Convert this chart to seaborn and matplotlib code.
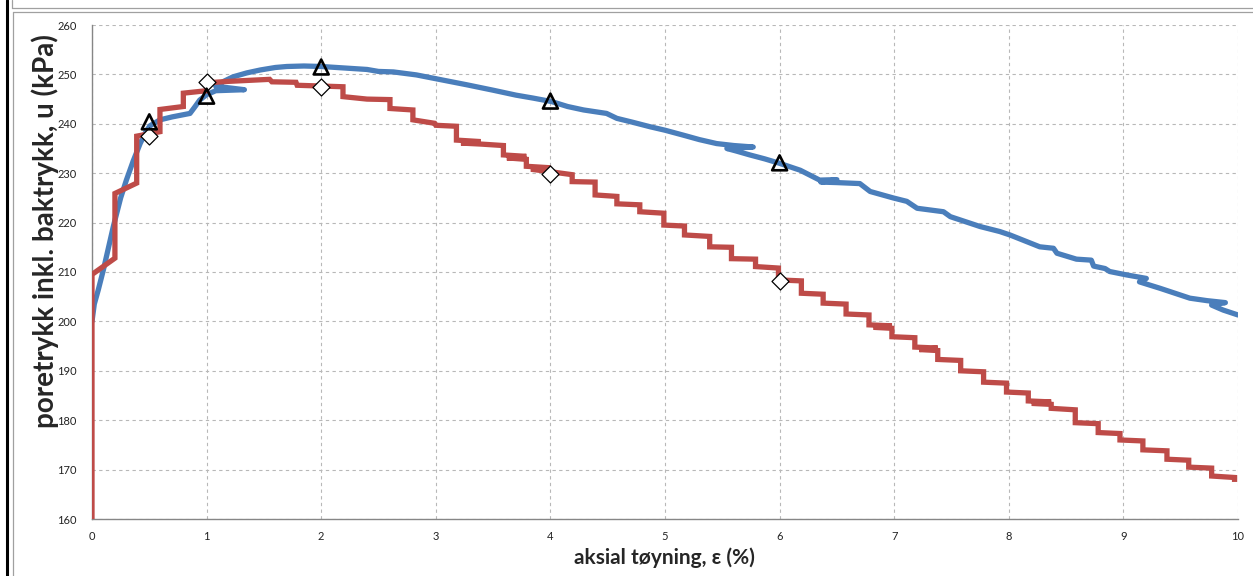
import matplotlib
matplotlib.use("Agg")
import matplotlib.pyplot as plt
import seaborn as sns
import pandas as pd
from matplotlib.lines import Line2D

# ---------------- data ----------------
blue_strain = [0.0, 0.02, 0.055, 0.10, 0.186, 0.25, 0.30, 0.36, 0.42, 0.47, 0.506, 0.593, 0.70,
               0.855, 0.90, 0.94, 1.0, 1.08, 1.33, 1.08, 1.15, 1.23, 1.35, 1.47, 1.6, 1.7, 1.85,
               2.0, 2.2, 2.4, 2.5, 2.63, 2.83, 3.05, 3.27, 3.5, 3.7, 3.85, 4.01, 4.15, 4.29, 4.49,
               4.58, 4.72, 4.87, 5.0, 5.16, 5.3, 5.45, 5.6, 5.77, 5.54, 5.62, 5.74, 5.87, 6.0,
               6.18, 6.35, 6.5, 6.36, 6.5, 6.70, 6.79, 6.99, 7.11, 7.2, 7.43, 7.49, 7.75, 7.92,
               8.01, 8.27, 8.39, 8.42, 8.59, 8.72, 8.74, 8.84, 8.88, 9.03, 9.2, 9.14, 9.32, 9.58,
               9.73, 9.89, 9.77, 9.87, 10.0]
blue_pressure = [200.0, 203.5, 206.4, 210.5, 219.2, 225.0, 228.6, 232.5, 236.0, 238.4, 239.6, 240.8,
                 241.4, 242.1, 243.5, 244.8, 245.9, 246.7, 246.9, 247.6, 248.6, 249.5, 250.3, 250.9,
                 251.4, 251.6, 251.7, 251.6, 251.3, 251.0, 250.6, 250.5, 249.9, 248.9, 247.9, 246.8,
                 245.8, 245.2, 244.5, 243.5, 242.8, 242.1, 241.1, 240.3, 239.4, 238.7, 237.7, 236.8,
                 236.0, 235.6, 235.3, 235.0, 234.5, 233.7, 232.9, 232.0, 230.6, 228.6, 228.7, 228.2,
                 228.1, 227.9, 226.3, 225.0, 224.3, 222.9, 222.2, 221.2, 219.2, 218.2, 217.5, 215.1,
                 214.8, 213.8, 212.6, 212.4, 211.2, 210.7, 210.1, 209.4, 208.7, 208.0, 206.7, 204.7,
                 204.2, 203.8, 203.3, 202.3, 201.3]

red_strain = [0.0, 0.0, 0.2, 0.2, 0.39, 0.39, 0.593, 0.593, 0.797, 0.797, 1.0, 1.0, 1.2, 1.55,
              1.57, 1.78, 1.79, 2.19, 2.19, 2.40, 2.6, 2.6, 2.80, 2.80, 2.99, 3.0, 3.18, 3.18,
              3.39, 3.22, 3.39, 3.39, 3.59, 3.59, 3.79, 3.62, 3.79, 3.79, 4.0, 3.83, 4.0, 4.19,
              4.19, 4.39, 4.39, 4.58, 4.58, 4.78, 4.78, 4.99, 4.99, 5.17, 5.17, 5.39, 5.39, 5.58,
              5.58, 5.79, 5.79, 5.99, 5.99, 6.19, 6.19, 6.38, 6.38, 6.58, 6.58, 6.78, 6.78, 6.98,
              6.82, 6.98, 6.98, 7.18, 7.18, 7.38, 7.22, 7.38, 7.38, 7.58, 7.58, 7.78, 7.78, 7.98,
              7.98, 8.17, 8.17, 8.37, 8.20, 8.37, 8.37, 8.58, 8.58, 8.78, 8.78, 8.97, 8.97, 9.17,
              9.17, 9.38, 9.38, 9.57, 9.57, 9.77, 9.77, 9.97, 9.97]
red_pressure = [160.0, 209.5, 212.8, 225.9, 228.0, 237.5, 238.4, 242.9, 243.5, 246.2, 246.7, 248.3,
                248.6, 249.0, 248.5, 248.4, 247.8, 247.5, 245.5, 245.0, 244.9, 243.1, 242.8, 240.8,
                240.1, 239.7, 239.5, 236.7, 236.4, 236.1, 235.9, 235.9, 235.6, 233.7, 233.4, 233.1,
                232.8, 231.4, 231.1, 230.8, 230.3, 229.7, 228.3, 228.2, 225.6, 225.3, 223.8, 223.6,
                222.2, 221.9, 219.5, 219.3, 217.5, 217.2, 215.1, 215.0, 212.7, 212.6, 211.1, 210.8,
                208.4, 208.2, 205.7, 205.5, 203.7, 203.5, 201.5, 201.3, 199.3, 199.1, 198.8, 198.6,
                196.9, 196.7, 194.8, 194.6, 194.3, 194.1, 192.3, 192.1, 190.0, 189.8, 187.7, 187.5,
                185.7, 185.5, 183.9, 183.7, 183.4, 183.2, 182.4, 182.1, 179.5, 179.3, 177.5, 177.3,
                176.0, 175.8, 174.0, 173.8, 172.1, 171.9, 170.5, 170.3, 168.7, 168.4, 167.5]

tri_strain = [0.5, 1.0, 2.0, 4.0, 6.0]
tri_pressure = [240.4, 245.6, 251.5, 244.6, 232.1]
dia_strain = [0.5, 1.0, 2.0, 4.0, 6.0]
dia_pressure = [237.5, 248.5, 247.4, 229.8, 208.2]

x_ticks = [0, 1, 2, 3, 4, 5, 6, 7, 8, 9, 10]
y_ticks = [160, 170, 180, 190, 200, 210, 220, 230, 240, 250, 260]
x_label = "aksial tøyning, ε (%)"
y_label = "poretrykk inkl. baktrykk, u (kPa)"

# ---------------- style ----------------
sns.set_style("white")
plt.rcParams['font.family'] = ['Lato', 'DejaVu Sans']

BLUE = "#4A7EBB"
RED = "#BE4B48"

fig = plt.figure(figsize=(12.53, 5.76), dpi=100)
ax = fig.add_axes([92/1253, 1 - 519/576, (1238-92)/1253, (519-25)/576])

blue_df = pd.DataFrame({"strain": blue_strain, "pressure": blue_pressure})
red_df = pd.DataFrame({"strain": red_strain, "pressure": red_pressure})

sns.lineplot(data=blue_df, x="strain", y="pressure", sort=False, estimator=None,
             color=BLUE, linewidth=3.8, ax=ax, solid_joinstyle="round", solid_capstyle="round", zorder=3)
sns.lineplot(data=red_df, x="strain", y="pressure", sort=False, estimator=None,
             color=RED, linewidth=3.8, ax=ax, solid_joinstyle="miter", solid_capstyle="butt", zorder=4)

sns.scatterplot(x=tri_strain, y=tri_pressure, marker="^", s=115, facecolor="none",
                edgecolor="black", linewidth=1.9, ax=ax, zorder=6)
sns.scatterplot(x=dia_strain, y=dia_pressure, marker="D", s=75, facecolor="white",
                edgecolor="black", linewidth=0.9, ax=ax, zorder=5)

ax.set_xlim(0, 10)
ax.set_ylim(160, 260)
ax.set_xticks(x_ticks)
ax.set_yticks(y_ticks)
ax.set_xticklabels([str(v) for v in x_ticks], fontsize=8, color="#222222")
ax.set_yticklabels([str(v) for v in y_ticks], fontsize=8, color="#222222")
ax.tick_params(axis="both", length=0, pad=9)
ax.tick_params(axis="y", pad=11)

ax.grid(True, which="major", color="#B8B8B8", linestyle=(0, (3, 3)), linewidth=0.8)
ax.set_axisbelow(True)
for side in ["top", "right"]:
    ax.spines[side].set_visible(False)
for side in ["left", "bottom"]:
    ax.spines[side].set_color("#868686")
    ax.spines[side].set_linewidth(1.0)

ax.set_xlabel(x_label, fontsize=15, fontweight="bold")
ax.set_ylabel(y_label, fontsize=20, fontweight="bold")
ax.xaxis.set_label_coords(0.4996, -0.079)
ax.yaxis.set_label_coords(-0.041, 0.583)
ax.xaxis.label.set_verticalalignment("center")
ax.yaxis.label.set_verticalalignment("center")

# outer frame lines (as in the source screenshot)
W, H = 1253, 576
fig.add_artist(Line2D([7/W, 7/W], [0, 1], color="black", linewidth=2.2, transform=fig.transFigure))
fig.add_artist(Line2D([13/W, 13/W], [0, 1 - 12/H], color="#A0A0A0", linewidth=0.9, transform=fig.transFigure))
fig.add_artist(Line2D([13/W, 1], [1 - 12/H, 1 - 12/H], color="#A0A0A0", linewidth=0.9, transform=fig.transFigure))
fig.add_artist(Line2D([12/W, 1], [1 - 8/H, 1 - 8/H], color="#A0A0A0", linewidth=0.9, transform=fig.transFigure))
fig.add_artist(Line2D([12/W, 12/W], [1 - 8/H, 1], color="#A0A0A0", linewidth=0.9, transform=fig.transFigure))

fig.savefig("out.png", dpi=100)
